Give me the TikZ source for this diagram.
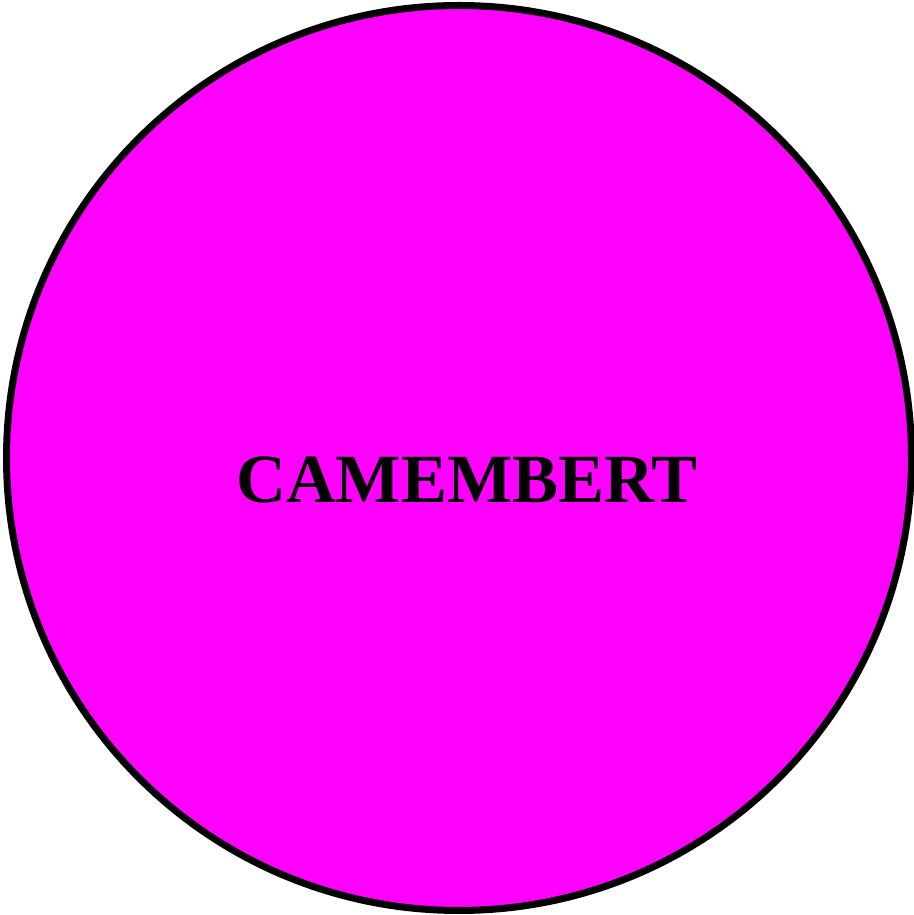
\documentclass[tikz,border=0pt]{standalone}
\usepackage{fontspec}
\setmainfont{Liberation Serif}
\definecolor{cheese}{RGB}{255,0,255}
\tikzset{pie/.style={circle,draw=black,line width=7pt,fill=cheese,minimum size=905pt,inner sep=0pt}}
\begin{document}
\begin{tikzpicture}[x=1pt,y=1pt]
\useasboundingbox (0,0) rectangle (913,915);
\node[pie] (c) at (459,457) {};
\node[font=\fontsize{69}{80}\selectfont\bfseries,inner sep=0pt,anchor=base] (t) at (467,412) {CAMEMBERT};
\end{tikzpicture}
\end{document}
